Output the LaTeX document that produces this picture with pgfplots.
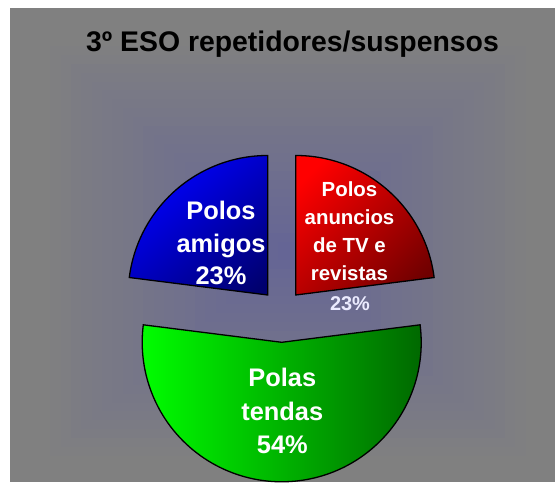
\documentclass[border=0pt]{standalone}
\usepackage{pgfplots}
\pgfplotsset{compat=1.18}
\usepackage{pgfplotstable}
\usepackage{fontspec}
\setmainfont{Liberation Sans}

\definecolor{bgout}{RGB}{128,128,128}
\definecolor{bgin}{RGB}{100,100,150}
\definecolor{redhi}{RGB}{255,0,0}
\definecolor{redlo}{RGB}{112,0,0}
\definecolor{bluehi}{RGB}{0,0,255}
\definecolor{bluelo}{RGB}{0,0,110}
\definecolor{greenhi}{RGB}{0,255,0}
\definecolor{greenlo}{RGB}{0,100,0}

% share of each slice, in percent
\pgfplotstableread{
slice value
red   23
green 54
blue  23
}\piedata

\begin{document}
\begin{tikzpicture}[x=1bp,y=1bp]
\useasboundingbox (0,0) rectangle (555,487);
\fill[white] (0,0) rectangle (555,487);
\fill[bgout] (10,5) rectangle (555,479);
% rectangular gradient of the chart area
\foreach \i in {1,...,24}{
  \pgfmathsetmacro\t{1-(\i-1)/24}
  \pgfmathsetmacro\p{(1-\t)*100}
  \fill[bgin!\p!bgout] ({288-\t*248},{487-(251+\t*214)}) rectangle ({288+\t*248},{487-(251-\t*214)});
}

\pgfplotstablegetelem{0}{value}\of\piedata \let\vR\pgfplotsretval
\pgfplotstablegetelem{1}{value}\of\piedata \let\vG\pgfplotsretval
\pgfplotstablegetelem{2}{value}\of\piedata \let\vB\pgfplotsretval
\pgfmathsetmacro\aR{90-3.6*\vR}
\pgfmathsetmacro\aG{\aR-3.6*\vG}
\pgfmathsetmacro\aB{\aG-3.6*\vB}
\pgfmathsetmacro\mR{(90+\aR)/2}
\pgfmathsetmacro\mG{(\aR+\aG)/2}
\pgfmathsetmacro\mB{(\aG+\aB)/2}
\def\rad{139.5bp}

\begin{axis}[
    at={(0,0)}, anchor=south west,
    scale only axis, width=555bp, height=487bp,
    xmin=0, xmax=555, ymin=0, ymax=487,
    y dir=reverse,
    hide axis, clip=false,
]
% slices, clockwise from 12 o'clock, each pulled out from the centre
\shadedraw[draw=black, line width=1.3bp, left color=redhi, right color=redlo, shading angle=45]
  (axis cs:281.7,310.9) ++(\mR:21.2bp) -- ++(90:\rad)
  arc[start angle=90, end angle=\aR, radius=\rad] -- cycle;
\shadedraw[draw=black, line width=1.3bp, left color=greenhi, right color=greenlo, shading angle=90]
  (axis cs:281.7,310.9) ++(\mG:31.4bp) -- ++(\aR:\rad)
  arc[start angle=\aR, end angle=\aG, radius=\rad] -- cycle;
\shadedraw[draw=black, line width=1.3bp, left color=bluehi, right color=bluelo, shading angle=40]
  (axis cs:281.7,310.9) ++(\mB:21.2bp) -- ++(\aG:\rad)
  arc[start angle=\aG, end angle=\aB, radius=\rad] -- cycle;

\node[font=\bfseries\fontsize{28.5}{32}\selectfont, anchor=base]
  at (axis cs:292.5,51.7) {3º ESO repetidores/suspensos};
\node[font=\bfseries\fontsize{25.5}{33}\selectfont, text=white, align=center]
  at (axis cs:221,243) {Polos\\amigos\\23\%};
\node[font=\bfseries\fontsize{20.5}{28}\selectfont, text=white, align=center]
  at (axis cs:349.5,231) {Polos\\anuncios\\de TV e\\revistas};
\node[font=\bfseries\fontsize{20}{22}\selectfont, text=white!92!blue]
  at (axis cs:350,303.7) {23\%};
\node[font=\bfseries\fontsize{25.5}{34}\selectfont, text=white, align=center]
  at (axis cs:282.3,411) {Polas\\tendas\\54\%};
\end{axis}
\end{tikzpicture}
\end{document}
